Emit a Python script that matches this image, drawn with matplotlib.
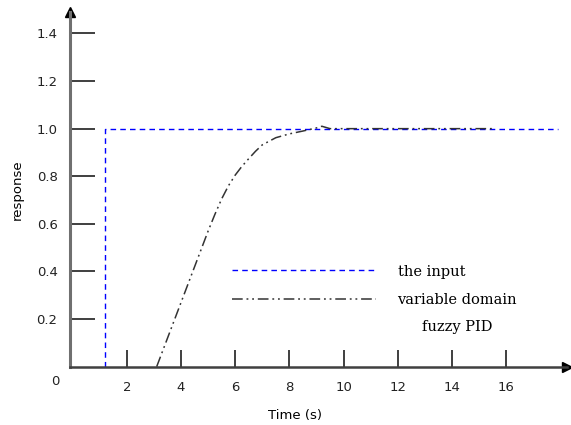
import numpy as np
import matplotlib
matplotlib.use('Agg')
from matplotlib import pyplot as plt

# input step
t_in = [1.2, 1.2, 17.9]
y_in = [0.0, 1.0, 1.0]

# variable domain fuzzy PID response
t_pid = [3.1, 3.5, 4.0, 4.5, 5.0, 5.25, 5.5, 5.75, 6.0, 6.25, 6.5, 6.75, 7.0, 7.5, 8.0, 8.5, 9.0, 9.2, 9.5, 10.0, 12.0, 14.0, 15.5]
y_pid = [0.0, 0.12, 0.27, 0.42, 0.57, 0.64, 0.705, 0.76, 0.805, 0.842, 0.874, 0.905, 0.932, 0.962, 0.978, 0.99, 1.003, 1.01, 1.0, 1.0, 1.0, 1.0, 1.0]

xticks = [2, 4, 6, 8, 10, 12, 14, 16]
yticks = [0.2, 0.4, 0.6, 0.8, 1.0, 1.2, 1.4]

fig = plt.figure(figsize=(5.71, 4.25), dpi=100)
ax = fig.add_axes([70 / 571, 58.3 / 425, 497 / 571, 354.7 / 425])

ax.plot(t_in, y_in, color='#0000ff', lw=1.0, dashes=(4, 3), label='the input')
ax.plot(t_pid, y_pid, color='#333333', lw=1.1, dashes=(7, 2.5, 1.2, 2.5, 1.2, 2.5),
        label='variable domain')

ax.set_xlim(-0.1, 18.25)
ax.set_ylim(0, 1.49)

for s in ['top', 'right']:
    ax.spines[s].set_visible(False)
ax.spines['left'].set_color('#707070')
ax.spines['left'].set_linewidth(2.2)
ax.spines['bottom'].set_color('#404040')
ax.spines['bottom'].set_linewidth(1.8)

# arrow heads
ax.plot(1, 0, '>', color='black', ms=7, transform=ax.transAxes, clip_on=False)
ax.plot(0, 1, '^', color='black', ms=7, transform=ax.transAxes, clip_on=False)

ax.set_xticks(xticks)
ax.set_xticklabels([str(v) for v in xticks])
ax.set_yticks(yticks)
ax.set_yticklabels([f'{v:.1f}' for v in yticks])
ax.tick_params(axis='x', direction='in', length=12, width=1.3, color='#303030',
               pad=10, labelsize=9.5, labelcolor='#222222')
ax.tick_params(axis='y', direction='in', length=18, width=1.3, color='#303030',
               pad=9, labelsize=9.5, labelcolor='#222222')
ax.text(-0.5, -0.035, '0', ha='right', va='top', fontsize=9.5, color='#222222')

ax.set_ylabel('response', fontsize=9.5, labelpad=9)
ax.set_xlabel('Time (s)', fontsize=9.5, labelpad=18)
ax.xaxis.set_label_coords(0.453, -0.12)

leg = ax.legend(loc='upper left', bbox_to_anchor=(0.326, 0.288), frameon=False,
                borderpad=0, borderaxespad=0, handlelength=9.9, handletextpad=1.45,
                labelspacing=1.0, prop={'family': 'DejaVu Serif', 'size': 10.5})
ax.annotate('fuzzy PID', xy=(0.5, 0), xycoords=leg.get_texts()[1],
            xytext=(0, -9), textcoords='offset points', ha='center', va='top',
            family='DejaVu Serif', fontsize=10.5, zorder=10)

fig.savefig('out.png', dpi=100)
